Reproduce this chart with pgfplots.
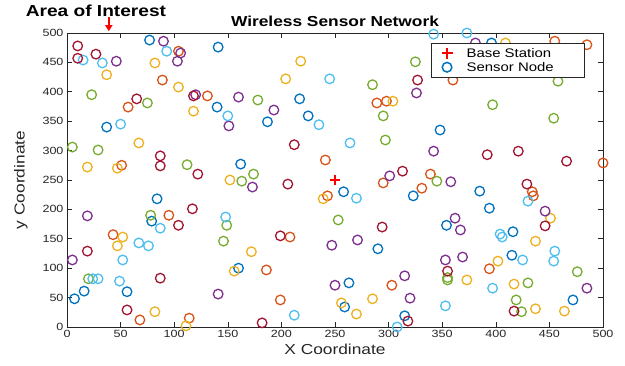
\documentclass[border=0pt]{standalone}
\usepackage{pgfplots}
\pgfplotsset{compat=1.18}
\usepackage{fontspec}
\setmainfont[FakeStretch=1.2]{Liberation Sans}
\usetikzlibrary{calc,arrows.meta}
\definecolor{mB}{rgb}{0,0.447,0.741}
\definecolor{mO}{rgb}{0.85,0.325,0.098}
\definecolor{mY}{rgb}{0.929,0.694,0.125}
\definecolor{mP}{rgb}{0.494,0.184,0.556}
\definecolor{mG}{rgb}{0.466,0.674,0.188}
\definecolor{mC}{rgb}{0.301,0.745,0.933}
\definecolor{mR}{rgb}{0.635,0.078,0.184}
\definecolor{axc}{rgb}{0.15,0.15,0.15}
\begin{document}
\begin{tikzpicture}
\begin{axis}[
 scale only axis, width=536bp, height=294bp,
 xmin=0,xmax=500,ymin=0,ymax=500,
 xtick={0,50,...,500}, ytick={0,50,...,500},
 tick align=inside,
 axis line style={draw=axc, line width=0.6bp},
 tick style={axc, line width=0.6bp},
 major tick length=5bp,
 ticklabel style={font=\fontsize{10.5}{12}\selectfont, text=axc},
 /pgf/number format/assume math mode=true,
 xlabel={X Coordinate}, ylabel={y Coordinate},
 label style={font=\fontsize{14.5}{16}\selectfont, text=axc},
 xlabel style={yshift=1bp},
 ylabel style={yshift=8bp},
 title={Wireless Sensor Network},
 title style={font=\bfseries\fontsize{14.5}{16}\selectfont, yshift=-3bp},
 clip=false,
 legend style={at={(0.966,0.966)}, anchor=north east, font=\fontsize{12.5}{14}\selectfont, draw=axc, line width=0.5bp, row sep=0bp, inner xsep=10bp, inner ysep=3bp,
   nodes={inner ysep=1bp, text height=10bp, text depth=2bp}},
 legend cell align=left,
 legend image post style={line width=1.5bp},
 every axis plot/.append style={only marks, mark=o, mark size=4.8bp, line width=1.3bp}
]
\addlegendimage{only marks, mark=+, mark size=5.5bp, red}
\addlegendentry{\makebox[118bp][l]{\hspace{12bp}Base Station}}
\addlegendimage{only marks, mark=o, mark size=4.8bp, mB}
\addlegendentry{\makebox[118bp][l]{\hspace{12bp}Sensor Node}}
\addplot[mB, forget plot] coordinates {
(77,488) (141,476) (37,340) (140,374) (217,388) (225,359) (187,349) (348,335)
(84,218) (79,180) (162,277) (258,230) (323,223) (354,173) (385,231) (394,202)
(416,162) (16,61) (7,48) (56,60) (160,100) (290,133) (263,75) (259,34) (315,19)
(415,122) (472,46) (396,483)};
\addplot[mO, forget plot] coordinates {
(104,469) (89,420) (57,374) (131,393) (289,381) (298,384) (360,420) (455,486)
(485,480) (51,275) (95,190) (43,157) (241,284) (243,223) (295,245) (339,260)
(331,236) (500,279) (434,230) (435,223) (68,12) (114,15) (208,153) (186,97)
(199,46) (303,71) (394,99)};
\addplot[mY, forget plot] coordinates {
(37,429) (82,449) (104,408) (118,367) (218,452) (204,422) (304,384) (409,483)
(67,313) (19,272) (47,270) (152,250) (239,218) (451,185) (52,153) (47,138)
(82,26) (111,2) (172,128) (156,95) (373,80) (285,48) (256,41) (270,22) (437,146)
(402,112) (417,73) (437,31) (464,27)};
\addplot[mP, forget plot] coordinates {
(90,486) (106,466) (46,452) (103,452) (120,395) (160,391) (193,369) (151,342)
(326,398) (381,483) (19,189) (173,238) (342,299) (301,257) (358,247) (362,185)
(367,165) (446,197) (5,114) (247,139) (141,56) (271,148) (353,114) (369,119)
(250,71) (315,87) (320,49) (485,66)};
\addplot[mG, forget plot] coordinates {
(23,395) (75,381) (178,386) (325,451) (285,412) (295,359) (458,418) (397,378)
(454,355) (5,306) (29,301) (112,276) (78,190) (174,260) (163,248) (149,173)
(253,182) (297,318) (345,248) (20,82) (146,146) (355,80) (355,84) (430,75)
(476,94) (419,46) (424,26)};
\addplot[mC, forget plot] coordinates {
(15,454) (33,449) (93,469) (50,345) (150,359) (235,344) (245,422) (342,498)
(373,500) (87,168) (67,143) (76,138) (52,114) (24,82) (29,82) (49,78) (148,187)
(264,313) (270,219) (430,214) (404,158) (212,20) (308,0) (353,36) (406,153)
(425,114) (455,129) (454,112) (397,66)};
\addplot[mR, forget plot] coordinates {
(10,478) (10,457) (27,464) (65,388) (118,393) (87,291) (87,274) (122,260)
(117,201) (104,173) (19,129) (87,83) (56,29) (212,310) (206,243) (199,155)
(182,7) (313,265) (294,170) (392,293) (421,299) (466,282) (429,243) (446,172)
(327,420) (355,95) (318,10) (417,27)};
\addplot[red, mark=+, mark size=5bp, line width=1.3bp, forget plot] coordinates {(250,250)};
\node[font=\bfseries\fontsize{16}{17}\selectfont] at (axis cs:27,538) {Area of Interest};
\draw[red, line width=1.8bp, -{Triangle[width=7bp,length=6bp]}] (axis cs:39,527) -- (axis cs:39,503);
\end{axis}
\pgfresetboundingbox
\path ($(current axis.south west)+(-67bp,-39bp)$) rectangle ($(current axis.north east)+(22bp,33bp)$);
\end{tikzpicture}
\end{document}
